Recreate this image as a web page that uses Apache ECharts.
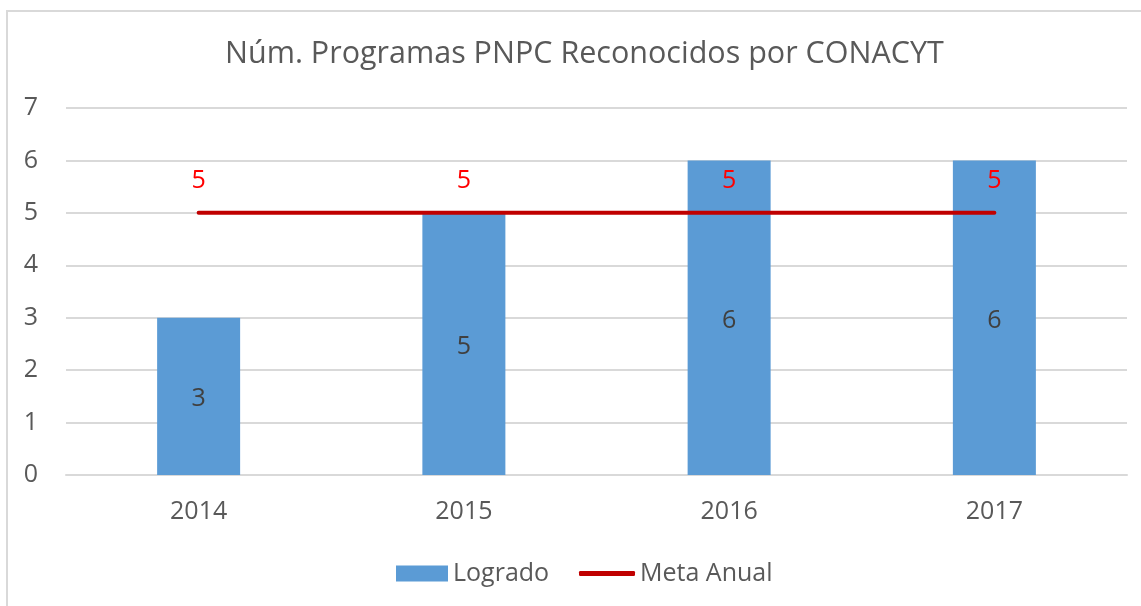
<!DOCTYPE html>
<html>
<head>
<meta charset="utf-8">
<script src="https://cdn.jsdelivr.net/npm/echarts@6/dist/echarts.min.js"></script>
<style>
  html, body { margin: 0; padding: 0; background: #fff; }
  #frame { position: absolute; left: 6px; top: 10px; width: 1200px; height: 700px;
           border-left: 2px solid #d9d9d9; border-top: 2px solid #d9d9d9; }
  #chart { position: absolute; left: 0; top: 0; width: 1141px; height: 606px; }
</style>
</head>
<body>
<div id="frame"></div>
<div id="chart"></div>
<script>
const years = ['2014', '2015', '2016', '2017'];
const logrado = [3, 5, 6, 6];
const metaAnual = [5, 5, 5, 5];

const font = '"Open Sans", sans-serif';
const legendText = { fontFamily: font, fontSize: 25, color: '#595959' };
const chart = echarts.init(document.getElementById('chart'));

chart.setOption({
    animation: false,
    title: {
        text: 'Núm. Programas PNPC Reconocidos por CONACYT',
        left: 225,
        top: 39,
        padding: 0,
        textStyle: { fontFamily: font, fontSize: 30.5, fontWeight: 'normal', color: '#595959' }
    },
    legend: [
        {
            left: 396,
            top: 561,
            padding: 0,
            itemWidth: 52,
            itemHeight: 16,
            textStyle: legendText,
            data: [{ name: 'Logrado', icon: 'rect' }]
        },
        {
            left: 579,
            top: 561,
            padding: 0,
            itemWidth: 56,
            itemHeight: 5,
            textStyle: legendText,
            data: [{ name: 'Meta Anual', icon: 'roundRect' }]
        }
    ],
    grid: { left: 66, right: 14, top: 108, bottom: 131 },
    xAxis: {
        type: 'category',
        data: years,
        axisTick: { show: false },
        axisLine: { lineStyle: { color: '#d9d9d9', width: 2 } },
        axisLabel: { fontFamily: font, fontSize: 25, color: '#595959', margin: 24 }
    },
    yAxis: {
        type: 'value',
        min: 0,
        max: 7,
        interval: 1,
        splitLine: { lineStyle: { color: '#d9d9d9', width: 2 } },
        axisLabel: { fontFamily: font, fontSize: 25, color: '#595959', margin: 28 }
    },
    series: [
        {
            name: 'Logrado',
            type: 'bar',
            data: logrado,
            barWidth: 83,
            itemStyle: { color: '#5b9bd5' },
            label: {
                show: true,
                position: 'inside',
                offset: [0, 3],
                fontFamily: font,
                fontSize: 25,
                color: '#404040'
            }
        },
        {
            name: 'Meta Anual',
            type: 'line',
            data: metaAnual,
            symbol: 'circle',
            symbolSize: 1,
            lineStyle: { color: '#c00000', width: 4, cap: 'round' },
            itemStyle: { color: '#c00000' },
            label: {
                show: true,
                position: 'top',
                distance: 19,
                fontFamily: font,
                fontSize: 25,
                color: '#ff0000'
            }
        }
    ]
});
</script>
</body>
</html>
